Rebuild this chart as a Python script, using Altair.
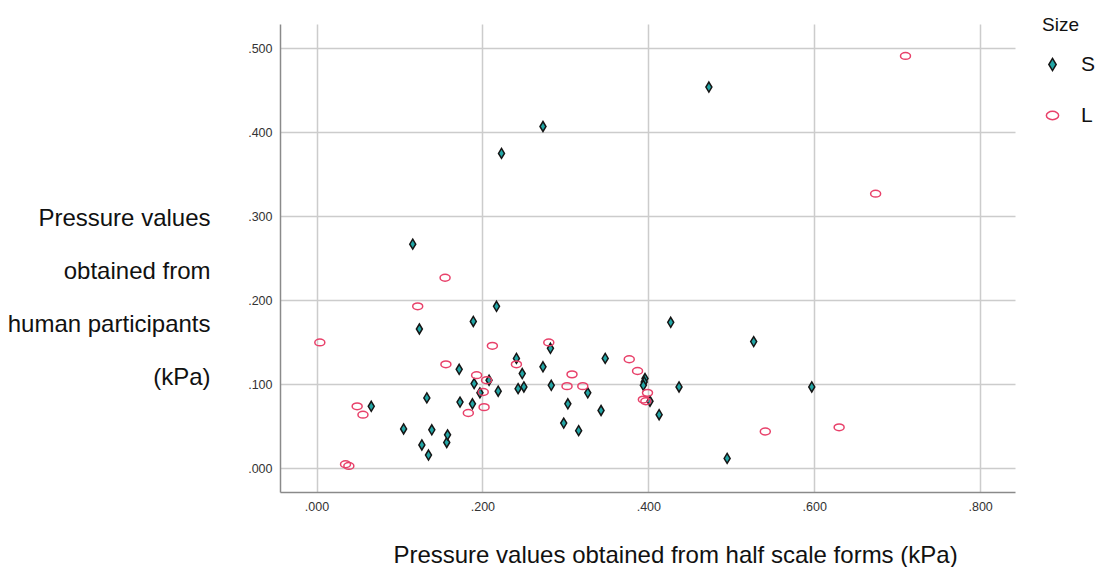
import altair as alt
import pandas as pd

# Size S (diamonds)
s_x = [0.066, 0.105, 0.116, 0.124, 0.127, 0.133, 0.135, 0.139, 0.157, 0.158,
       0.172, 0.173, 0.189, 0.188, 0.190, 0.197, 0.208, 0.217, 0.219, 0.223,
       0.241, 0.243, 0.248, 0.250, 0.273, 0.273, 0.282, 0.283, 0.298, 0.303,
       0.316, 0.327, 0.343, 0.348, 0.396, 0.395, 0.394, 0.402, 0.413, 0.427,
       0.437, 0.473, 0.495, 0.527, 0.597]
s_y = [0.074, 0.047, 0.267, 0.166, 0.028, 0.084, 0.016, 0.046, 0.031, 0.040,
       0.118, 0.079, 0.175, 0.077, 0.101, 0.090, 0.105, 0.193, 0.092, 0.375,
       0.131, 0.095, 0.113, 0.097, 0.407, 0.121, 0.143, 0.099, 0.054, 0.077,
       0.045, 0.090, 0.069, 0.131, 0.107, 0.103, 0.099, 0.080, 0.064, 0.174,
       0.097, 0.454, 0.012, 0.151, 0.097]

# Size L (open ellipses)
l_x = [0.004, 0.035, 0.039, 0.049, 0.056, 0.122, 0.155, 0.156, 0.183, 0.193,
       0.201, 0.202, 0.205, 0.212, 0.241, 0.280, 0.302, 0.308, 0.321, 0.377,
       0.387, 0.394, 0.397, 0.399, 0.541, 0.630, 0.674, 0.710]
l_y = [0.150, 0.005, 0.003, 0.074, 0.064, 0.193, 0.227, 0.124, 0.066, 0.111,
       0.091, 0.073, 0.105, 0.146, 0.124, 0.150, 0.098, 0.112, 0.098, 0.130,
       0.116, 0.082, 0.080, 0.090, 0.044, 0.049, 0.327, 0.491]

size_cats = ["S", "L"]
x_ticks = [0.0, 0.2, 0.4, 0.6, 0.8]
y_ticks = [0.0, 0.1, 0.2, 0.3, 0.4, 0.5]

x_title = "Pressure values obtained from half scale forms (kPa)"
y_title = ["Pressure values", "obtained from", "human participants", "(kPa)"]

df = pd.DataFrame({
    "x": s_x + l_x,
    "y": s_y + l_y,
    "Size": ["S"] * len(s_x) + ["L"] * len(l_x),
})

diamond = "M0,-1L0.6,0L0,1L-0.6,0Z"
ellipse = "M-1,0A1,0.68 0 1,1 1,0A1,0.68 0 1,1 -1,0Z"

FONT = "Liberation Sans"
label_expr = "substring(format(datum.value, '.3f'), 1)"

legend = alt.Legend(
    title="Size", orient="none", legendX=762, legendY=-8,
    titleFont=FONT, titleFontSize=19, titleFontWeight="normal", titleColor="#111",
    titleBaseline="top", titlePadding=19,
    labelFont=FONT, labelFontSize=21, labelColor="#111", labelOffset=18,
    symbolSize=150, symbolStrokeWidth=1.5, rowPadding=29, padding=0,
)

axis_common = dict(
    grid=True, gridColor="#cccccc", gridWidth=1.5,
    domainColor="#8a8a8a", domainWidth=1.5, ticks=False,
    labelFont=FONT, labelFontSize=12.5, labelColor="#333", labelPadding=8,
    labelExpr=label_expr,
    titleFont=FONT, titleFontSize=24, titleFontWeight="normal", titleColor="#111",
)

chart = alt.Chart(df).mark_point(size=100, strokeWidth=1.5, opacity=1).encode(
    x=alt.X("x:Q",
            scale=alt.Scale(domain=[-0.044, 0.842], nice=False, zero=False),
            axis=alt.Axis(values=x_ticks, title=x_title, titleX=395, titleY=70,
                          titleAlign="center", titleBaseline="alphabetic",
                          **axis_common)),
    y=alt.Y("y:Q",
            scale=alt.Scale(domain=[-0.028, 0.529], nice=False, zero=False),
            axis=alt.Axis(values=y_ticks, title=y_title, titleAngle=0,
                          titleAlign="right", titleX=-70, titleY=201,
                          titleBaseline="alphabetic", titleLineHeight=53,
                          **axis_common)),
    shape=alt.Shape("Size:N", scale=alt.Scale(domain=size_cats, range=[diamond, ellipse]), legend=legend),
    fill=alt.Fill("Size:N", scale=alt.Scale(domain=size_cats, range=["#22a6a6", "transparent"]), legend=legend),
    stroke=alt.Stroke("Size:N", scale=alt.Scale(domain=size_cats, range=["#151515", "#e8416a"]), legend=legend),
).properties(
    width=735, height=468,
    autosize=alt.AutoSizeParams(type="none"),
    padding={"left": 272, "top": 16, "right": 84, "bottom": 75},
    background="white",
).configure_view(stroke=None)

chart.save("out.html", embed_options={"renderer": "svg", "actions": False})
